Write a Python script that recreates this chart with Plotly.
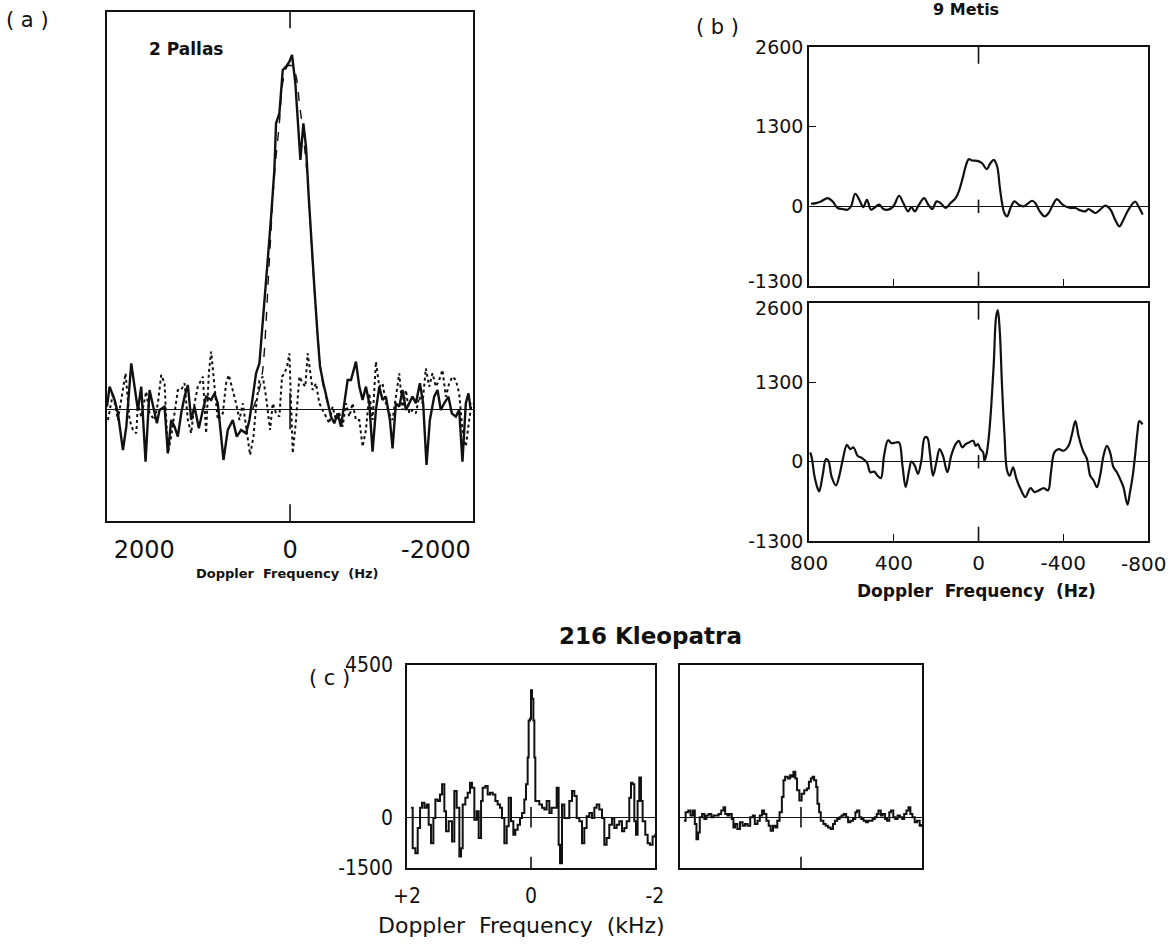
import plotly.graph_objects as go

# ---------------- (a) 2 Pallas ----------------
pallas_solid_hz = [2511, 2475, 2406, 2361, 2292, 2246, 2178, 2132, 2087, 2041,
                   1982, 1927, 1881, 1826, 1790, 1721, 1676, 1630, 1584, 1539,
                   1493, 1447, 1402, 1356, 1310, 1251, 1196, 1151, 1082, 1036,
                   991, 913, 854, 785, 731, 671, 603, 557, 511, 466,
                   420, 388, 352, 306, 260, 215, 192, 146, 100, 55,
                   9, -27, -73, -119, -142, -183, -219, -256, -292, -333,
                   -379, -411, -457, -516, -562, -607, -653, -699, -744, -790,
                   -836, -904, -950, -995, -1041, -1087, -1132, -1178, -1224, -1269,
                   -1315, -1370, -1406, -1452, -1498, -1543, -1589, -1635, -1680, -1726,
                   -1781, -1826, -1872, -1918, -1977, -2023, -2068, -2114, -2173, -2219,
                   -2274, -2320, -2365, -2411, -2447, -2479]
pallas_solid_pow = [0.8, 6.8, 2.8, -1.2, -12.2, -5.2, 13.8, 6.8, -0.2, 6.8,
                    -15.7, 5.8, 0.8, -4.2, -0.2, 0.8, -13.2, -3.2, -5.2, -8.2,
                    -1.2, 3.8, 7.3, -3.2, 0.8, -5.7, -0.2, 3.8, 2.8, 4.8,
                    1.8, -15.2, -6.2, -3.2, -8.2, -6.2, -7.2, -3.2, 3.8, 10.8,
                    13.8, 21.8, 31.8, 44.8, 57.8, 71.8, 85.8, 88.8, 101.8, 102.8,
                    104.3, 106.3, 97.8, 83.8, 74.8, 85.8, 78.8, 63.8, 49.8, 36.8,
                    21.8, 12.8, 7.8, 1.8, -2.2, -4.2, -1.2, -5.2, 1.8, 8.8,
                    8.8, 14.3, 6.8, 2.8, 6.8, 1.8, -12.7, -0.2, 6.8, 2.8,
                    3.8, -3.2, -11.7, 1.8, 0.8, 5.8, -0.2, 1.8, 3.8, 1.8,
                    7.8, 1.8, -16.7, -3.2, 3.8, 5.8, -0.2, 1.8, 3.8, -1.2,
                    -2.2, -0.2, -15.7, 1.8, 4.8, -0.2]

pallas_dotted_hz = [2498, 2429, 2361, 2292, 2256, 2201, 2155, 2109, 2087, 2041,
                    1973, 1927, 1858, 1813, 1767, 1721, 1676, 1630, 1584, 1539,
                    1493, 1447, 1402, 1356, 1310, 1265, 1196, 1151, 1114, 1082,
                    1036, 991, 922, 877, 840, 785, 740, 694, 648, 603,
                    548, 502, 466, 420, 374, 329, 274, 237, 192, 146,
                    110, 78, 41, 9, -14, -37, -82, -128, -174, -210,
                    -242, -274, -310, -356, -402, -447, -493, -539, -584, -630,
                    -676, -721, -767, -813, -858, -904, -950, -995, -1041, -1087,
                    -1132, -1178, -1224, -1269, -1315, -1361, -1406, -1452, -1498, -1543,
                    -1589, -1635, -1680, -1726, -1772, -1817, -1863, -1909, -1954, -2000,
                    -2046, -2091, -2137, -2183, -2228, -2274, -2320, -2365, -2411, -2457,
                    -2493]
pallas_dotted_pow = [-3.2, 4.8, -3.2, 6.8, 10.8, -3.2, -6.2, -7.2, 1.8, -2.2,
                     5.3, -1.2, -3.2, 1.8, 10.3, 7.8, -13.2, -8.2, -1.2, 5.8,
                     5.8, 7.8, -3.2, -7.2, 1.8, 6.8, 9.8, -7.2, 10.8, 17.3,
                     6.8, -3.2, -1.2, 7.8, 10.3, 5.8, 1.8, -3.2, 1.8, -5.2,
                     -13.7, -8.2, 0.8, 8.8, 9.8, 3.8, -6.2, 1.8, -1.2, -2.2,
                     9.8, 10.8, 12.8, 16.8, 3.8, -13.2, -3.2, 9.8, 7.8, 6.8,
                     16.8, 11.8, 5.8, 7.8, 1.8, -0.2, -2.2, -4.2, 0.8, -3.2,
                     -1.2, -5.2, 1.8, -2.2, 1.8, -3.2, -3.2, -11.2, -6.2, 4.8,
                     -3.2, 14.3, 6.8, 7.8, 1.8, -1.2, -3.2, 3.8, 10.8, -0.2,
                     5.8, -1.2, -0.2, -1.2, 3.8, 1.8, 12.3, 6.8, 10.8, 6.8,
                     8.8, 11.8, 3.8, 7.8, 9.8, 8.8, 4.8, -6.2, -11.2, -3.2,
                     1.8]

pallas_fit_hz = [511, 420, 374, 283, 215, 146, 100, 32, -27, -82, -128, -183, -242, -310, -379, -447, -539]
pallas_fit_pow = [0, 6, 12, 45, 70, 86, 98, 103, 103, 100, 92, 82, 68, 44, 22, 8, 0]

# ---------------- (b) 9 Metis ----------------
metis_top_hz = [791, 767, 744, 712, 689, 665, 642, 618, 602, 582,
                563, 544, 527, 508, 493, 469, 449, 427, 402, 375,
                355, 333, 317, 301, 281, 257, 237, 218, 198, 179,
                155, 132, 108, 93, 77, 61, 46, 30, 6, -17,
                -38, -56, -72, -88, -100, -111, -122, -135, -151, -169,
                -190, -213, -232, -253, -268, -289, -312, -331, -351, -370,
                -389, -410, -433, -457, -480, -504, -519, -551, -574, -598,
                -621, -645, -665, -684, -708, -739, -755, -775]
metis_top_pow = [43, 54, 81, 135, 81, -27, -43, -54, 0, 206,
                 108, -11, 108, -54, -27, 27, -43, -54, 0, 173,
                 54, -81, -11, -81, 27, 135, 27, -43, 81, 54,
                 -27, 54, 135, 244, 433, 650, 769, 748, 742, 704,
                 607, 704, 758, 650, 325, 54, -108, -163, -27, 81,
                 27, 0, 43, 92, 54, -81, -163, -108, 27, 119,
                 54, 0, -27, -27, -65, -81, -43, -108, -54, 11,
                 -43, -217, -325, -217, -54, 76, 0, -135]

metis_bot_hz = [794, 786, 775, 759, 752, 736, 720, 709, 693, 673,
                657, 642, 621, 606, 590, 571, 548, 527, 511, 493,
                477, 461, 446, 427, 411, 391, 375, 359, 344, 328,
                317, 301, 286, 270, 254, 242, 229, 215, 199, 184,
                168, 147, 129, 108, 93, 77, 61, 46, 25, 14,
                3, -9, -22, -28, -38, -49, -60, -72, -83, -91,
                -100, -111, -122, -135, -147, -163, -179, -198, -221, -245,
                -265, -284, -308, -328, -342, -358, -378, -402, -425, -441,
                -457, -472, -493, -512, -527, -543, -559, -574, -590, -606,
                -621, -637, -653, -668, -684, -703, -715, -728, -739, -750,
                -759, -774]
metis_bot_pow = [152, 43, -228, -444, -488, -228, 43, 16, -255, -390,
                 -228, 16, 276, 206, 233, 98, 54, -11, -173, -163,
                 -228, -271, 98, 352, 303, 314, 314, -65, -417, -146,
                 0, -65, -200, 16, 395, 395, 125, -228, -11, 206,
                 98, -173, 98, 287, 341, 233, 287, 314, 341, 260,
                 287, 206, 152, 16, 125, 423, 910, 1614, 2373, 2481,
                 2156, 1235, 477, -146, -228, -92, -282, -444, -580, -433,
                 -498, -471, -433, -471, -173, 152, 206, 179, 260, 450,
                 666, 423, 179, 43, -228, -309, -417, -228, 98, 260,
                 152, -92, -173, -282, -417, -704, -498, -228, 98, 477,
                 666, 612]

# ---------------- (c) 216 Kleopatra ----------------
kleo_left_khz = [1.935, 1.909, 1.866, 1.828, 1.790, 1.758, 1.720, 1.683, 1.651, 1.613,
                 1.575, 1.543, 1.505, 1.468, 1.435, 1.398, 1.371, 1.328, 1.274, 1.237,
                 1.199, 1.156, 1.129, 1.102, 1.059, 1.022, 0.984, 0.952, 0.914, 0.876,
                 0.844, 0.806, 0.780, 0.737, 0.699, 0.661, 0.618, 0.575, 0.538, 0.500,
                 0.468, 0.430, 0.392, 0.360, 0.323, 0.285, 0.253, 0.215, 0.177, 0.145,
                 0.108, 0.081, 0.054, 0.038, 0.016, 0.0, -0.016, -0.038, -0.054, -0.070,
                 -0.091, -0.134, -0.177, -0.215, -0.253, -0.296, -0.333, -0.376, -0.414, -0.446,
                 -0.468, -0.500, -0.538, -0.575, -0.618, -0.661, -0.699, -0.737, -0.780, -0.823,
                 -0.860, -0.898, -0.941, -0.984, -1.022, -1.059, -1.102, -1.145, -1.183, -1.220,
                 -1.263, -1.306, -1.344, -1.382, -1.425, -1.468, -1.505, -1.543, -1.586, -1.613,
                 -1.640, -1.667, -1.694, -1.720, -1.747, -1.774, -1.801, -1.844, -1.882, -1.919,
                 -1.962, -2.005, -2.043]
kleo_left_pow = [278, -914, -1063, -318, 278, 427, 278, 377, -218, -765,
                 -20, 526, 477, 675, 973, 179, -417, -119, -715, 775,
                 278, -1162, -914, 377, 576, 725, 1023, 874, -70, 179,
                 -616, 477, 874, 923, 675, 725, 675, 477, 377, 278,
                 -20, -765, -268, 576, -119, -516, -367, -218, -20, 129,
                 526, 973, 1768, 2860, 2909, 3754, 3505, 2860, 1768, 477,
                 477, 377, 278, 228, 477, 129, 278, 278, 874, -814,
                 -1360, 377, -20, -20, 477, 775, 626, -20, -119, -765,
                 -318, 30, 129, -20, 278, 377, 228, -20, -814, -616,
                 -218, -20, -318, -218, -119, -417, -318, -119, 576, 1023,
                 973, -119, -516, 477, 1172, 477, -119, -516, -765, -814,
                 -566, -516, -417]

kleo_right_khz = [1.935, 1.907, 1.864, 1.826, 1.787, 1.755, 1.728, 1.700, 1.673, 1.635,
                  1.597, 1.564, 1.526, 1.482, 1.444, 1.401, 1.362, 1.319, 1.281, 1.253,
                  1.215, 1.183, 1.144, 1.117, 1.090, 1.052, 1.008, 0.965, 0.926, 0.883,
                  0.839, 0.796, 0.763, 0.719, 0.681, 0.643, 0.610, 0.572, 0.534, 0.501,
                  0.463, 0.425, 0.392, 0.354, 0.316, 0.289, 0.262, 0.218, 0.180, 0.153,
                  0.125, 0.093, 0.065, 0.027, -0.011, -0.054, -0.098, -0.131, -0.163, -0.191,
                  -0.218, -0.251, -0.272, -0.300, -0.327, -0.371, -0.409, -0.447, -0.490, -0.529,
                  -0.561, -0.599, -0.638, -0.670, -0.708, -0.747, -0.779, -0.817, -0.861, -0.899,
                  -0.926, -0.965, -0.997, -1.035, -1.074, -1.106, -1.144, -1.183, -1.221, -1.253,
                  -1.281, -1.319, -1.351, -1.390, -1.422, -1.460, -1.488, -1.526, -1.559, -1.597,
                  -1.635, -1.673, -1.706, -1.744, -1.777, -1.809, -1.842, -1.880, -1.918, -1.962,
                  -1.989]
kleo_right_pow = [-100, 149, 199, 50, 199, -199, -647, -448, 0, 100,
                  -50, 50, 100, 0, 50, 50, 100, 199, 299, 100,
                  50, 100, -50, -299, -199, -349, -149, -249, -199, -249,
                  0, 50, -199, -100, 50, 199, 100, -100, -249, -398,
                  -249, -299, -100, 149, 598, 1096, 1195, 1145, 1245, 1195,
                  1345, 1145, 797, 498, 697, 797, 847, 1046, 1145, 1195,
                  1096, 896, 398, 149, -100, -199, -249, -299, -349, -199,
                  -100, -50, 0, 50, 100, 0, -149, -100, -50, 149,
                  199, 0, -50, -100, -149, -100, -100, -50, 0, 100,
                  199, 50, 100, -50, -100, 149, 199, 0, -50, 50,
                  0, -50, 100, 199, 299, 100, 0, -149, -100, -249,
                  -199]

# axis tick labels
pallas_xticks = [2000, 0, -2000]
pallas_xtext = ["2000", "0", "-2000"]
metis_xticks = [800, 400, 0, -400, -800]
metis_xtext = ["800", "400", "0", "-400", ""]    # "-800" drawn separately (kept inside the page)
metis_edge_label = "-800"
metis_yticks = [2600, 1300, 0, -1300]
metis_top_ytext = ["2600", "1300", "0", ""]      # "-1300" drawn separately (nudged up)
metis_bot_ytext = ["", "1300", "0", "-1300"]     # "2600" drawn separately (nudged down)
kleo_xticks = [2, 0, -2]
kleo_xtext = ["+2", "0", "-2"]
kleo_yticks = [4500, 0, -1500]
kleo_ytext = ["4500", "0", "-1500"]

INK = "#111111"
GEO = "DejaVu Sans, Verdana, sans-serif"
COND = "Liberation Sans Narrow, DejaVu Sans Condensed, Arial Narrow, sans-serif"

fig = go.Figure()

# (a)
fig.add_trace(go.Scatter(x=pallas_dotted_hz, y=pallas_dotted_pow, mode="lines",
                         line=dict(color=INK, width=2, dash="dot"), xaxis="x", yaxis="y"))
fig.add_trace(go.Scatter(x=pallas_fit_hz, y=pallas_fit_pow, mode="lines", line_shape="spline",
                         line=dict(color=INK, width=1.4, dash="dash"), xaxis="x", yaxis="y"))
fig.add_trace(go.Scatter(x=pallas_solid_hz, y=pallas_solid_pow, mode="lines",
                         line=dict(color=INK, width=2.4), xaxis="x", yaxis="y"))
# (b)
fig.add_trace(go.Scatter(x=metis_top_hz, y=metis_top_pow, mode="lines", line_shape="spline",
                         line=dict(color=INK, width=2.2), xaxis="x2", yaxis="y2"))
fig.add_trace(go.Scatter(x=metis_bot_hz, y=metis_bot_pow, mode="lines", line_shape="spline",
                         line=dict(color=INK, width=2.2), xaxis="x3", yaxis="y3"))
# (c)
fig.add_trace(go.Scatter(x=kleo_left_khz, y=kleo_left_pow, mode="lines", line_shape="hv",
                         line=dict(color=INK, width=2), xaxis="x4", yaxis="y4"))
fig.add_trace(go.Scatter(x=kleo_right_khz, y=kleo_right_pow, mode="lines", line_shape="hv",
                         line=dict(color=INK, width=2), xaxis="x5", yaxis="y5"))

box = dict(showline=True, linecolor=INK, linewidth=1.6, mirror=True, showgrid=False,
           automargin=False)
YB = dict(family=GEO, size=19, color=INK)
XB = dict(family=GEO, size=20, color=INK)

layout = dict(
    width=1170, height=950, margin=dict(l=0, r=0, t=0, b=0, pad=0, autoexpand=False),
    autosize=False,
    paper_bgcolor="white", plot_bgcolor="white", showlegend=False,
    # (a)
    xaxis=dict(domain=[0.0915, 0.4043], range=[2510, -2510], tickvals=pallas_xticks,
               ticktext=pallas_xtext, ticks="", zeroline=False, anchor="y",
               tickfont=dict(family=GEO, size=24, color=INK), ticklabelstandoff=6, **box),
    yaxis=dict(domain=[0.4516, 0.9874], range=[-33.5, 119.2], showticklabels=False, ticks="",
               zeroline=True, zerolinecolor=INK, zerolinewidth=1.2, anchor="x", **box),
    # (b) upper
    xaxis2=dict(domain=[0.6915, 0.9812], range=[800, -800], tickvals=metis_xticks,
                showticklabels=False, ticks="inside", ticklen=7, tickwidth=1.4, tickcolor=INK,
                zeroline=False, anchor="y2", **box),
    yaxis2=dict(domain=[0.6989, 0.9505], range=[-1300, 2600], tickvals=metis_yticks,
                ticktext=metis_top_ytext, ticks="inside", ticklen=7, tickwidth=1.4, tickcolor=INK,
                zeroline=True, zerolinecolor=INK, zerolinewidth=1.2, anchor="x2",
                tickfont=YB, **box),
    # (b) lower
    xaxis3=dict(domain=[0.6915, 0.9812], range=[800, -800], tickvals=metis_xticks,
                ticktext=metis_xtext, ticks="inside", ticklen=7, tickwidth=1.4, tickcolor=INK,
                zeroline=False, anchor="y3", ticklabelstandoff=3, tickfont=XB, **box),
    yaxis3=dict(domain=[0.4305, 0.6811], range=[-1300, 2600], tickvals=metis_yticks,
                ticktext=metis_bot_ytext, ticks="inside", ticklen=7, tickwidth=1.4, tickcolor=INK,
                zeroline=True, zerolinecolor=INK, zerolinewidth=1.2, anchor="x3",
                tickfont=YB, **box),
    # (c) left
    xaxis4=dict(domain=[0.3479, 0.5598], range=[2, -2], tickvals=kleo_xticks, ticktext=kleo_xtext,
                ticks="", zeroline=False, anchor="y4", ticklabelstandoff=8,
                tickfont=dict(family=COND, size=21, color=INK), **box),
    yaxis4=dict(domain=[0.0863, 0.3000], range=[-1500, 4500], tickvals=kleo_yticks,
                ticktext=kleo_ytext, ticks="", zeroline=True, zerolinecolor=INK, zerolinewidth=1.2,
                anchor="x4", ticklabelstandoff=8, tickfont=dict(family=COND, size=21, color=INK), **box),
    # (c) right
    xaxis5=dict(domain=[0.5812, 0.7880], range=[2, -2], showticklabels=False, ticks="",
                zeroline=False, anchor="y5", **box),
    yaxis5=dict(domain=[0.0863, 0.3000], range=[-1500, 4500], showticklabels=False, ticks="",
                zeroline=True, zerolinecolor=INK, zerolinewidth=1.2, anchor="x5", **box),
)
fig.update_layout(**layout)

# axis tick decorations (frequency-zero markers)
def vtick(xref, yref, y0, y1):
    fig.add_shape(type="line", xref=xref, yref=yref, x0=0, x1=0, y0=y0, y1=y1,
                  line=dict(color=INK, width=1.6))

vtick("x", "y domain", 0, 0.033)
vtick("x", "y domain", 1, 0.968)
vtick("x", "y", -6, 5)
vtick("x2", "y2 domain", 0, 0.06)
vtick("x2", "y2 domain", 1, 0.93)
vtick("x2", "y2", -110, 110)
vtick("x3", "y3 domain", 0, 0.06)
vtick("x3", "y3 domain", 1, 0.93)
vtick("x3", "y3", -110, 110)
vtick("x4", "y4 domain", 0, 0.055)
vtick("x4", "y4", -300, 300)
vtick("x5", "y5 domain", 0, 0.055)
vtick("x5", "y5", -300, 300)

# crowded / edge tick labels of (b), nudged so they stay readable and on the page
fig.add_annotation(text="-1300", x=0.6915, xref="paper", y=-1300, yref="y2",
                   xanchor="right", yanchor="middle", xshift=-4, yshift=5, showarrow=False,
                   font=YB)
fig.add_annotation(text="2600", x=0.6915, xref="paper", y=2600, yref="y3",
                   xanchor="right", yanchor="middle", xshift=-4, yshift=-5, showarrow=False,
                   font=YB)
fig.add_annotation(text=metis_edge_label, x=1.0, xref="paper", y=0, yref="y3 domain",
                   xanchor="right", yanchor="middle", xshift=-2, yshift=-23, showarrow=False,
                   font=XB)

def note(text, x, y, size, family=GEO, bold=False):
    fig.add_annotation(text=("<b>%s</b>" % text) if bold else text, x=x, y=y,
                       xref="paper", yref="paper", showarrow=False,
                       xanchor="center", yanchor="middle",
                       font=dict(family=family, size=size, color=INK))

note("( a )", 0.0239, 0.979, 21)
note("( b )", 0.613, 0.9716, 21)
note("( c )", 0.282, 0.2863, 21)
note("2 Pallas", 0.159, 0.9484, 17, bold=True)
note("9 Metis", 0.8256, 0.9895, 16, bold=True)
note("Doppler  Frequency  (Hz)", 0.2453, 0.3968, 13, bold=True)
note("Doppler  Frequency  (Hz)", 0.835, 0.3779, 17, bold=True)
note("216 Kleopatra", 0.5556, 0.3305, 23, bold=True)
note("Doppler  Frequency  (kHz)", 0.4453, 0.0263, 22)

fig.write_html("out.html")
